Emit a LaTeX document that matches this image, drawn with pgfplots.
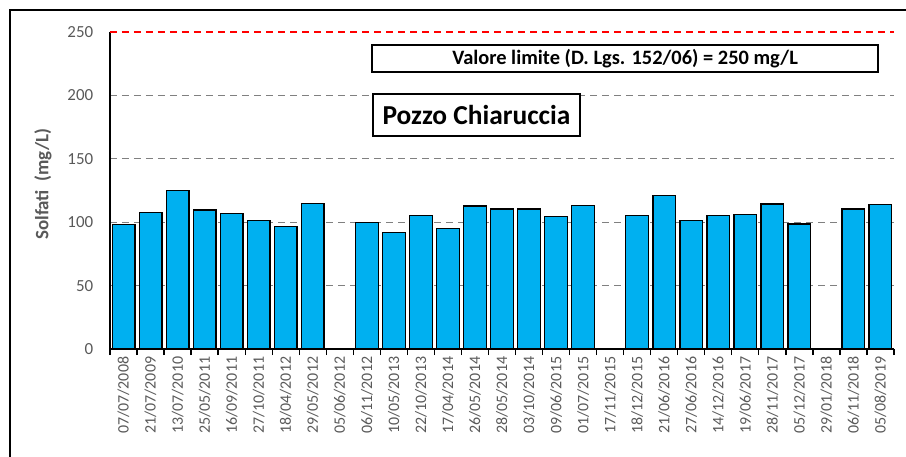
\documentclass[border=0pt]{standalone}
\usepackage{pgfplots}
\pgfplotsset{compat=1.18}
\usepackage{fontspec}
\setmainfont{Carlito}
\definecolor{barblue}{HTML}{00B0F0}
\definecolor{txtgrey}{HTML}{595959}
\definecolor{gridgrey}{HTML}{808080}
\begin{document}
\begin{tikzpicture}
\path[use as bounding box] (-110bp,-108bp) rectangle (796bp,349bp);
\draw[line width=1.5bp] (-100bp,-130bp) -- (-100bp,339bp) -- (820bp,339bp);
\begin{axis}[
  at={(0,0)}, anchor=south west,
  scale only axis, width=784bp, height=317bp,
  xmin=-0.5, xmax=28.5, ymin=0, ymax=250,
  clip=false,
  /pgf/number format/assume math mode=true,
  axis lines*=left,
  axis line style={line width=1.3bp, black},
  ytick={0,50,...,250},
  ymajorgrids,
  grid style={gridgrey, line width=1.3bp, dash pattern=on 7bp off 5bp},
  tick align=outside,
  ytick style={draw=none},
  xtick={0,...,28},
  major x tick style={draw=none},
  minor xtick={-0.5,0.5,...,28.5},
  minor tick length=6bp,
  minor x tick style={black, line width=1.3bp},
  xticklabels={07/07/2008,21/07/2009,13/07/2010,25/05/2011,16/09/2011,27/10/2011,18/04/2012,29/05/2012,05/06/2012,06/11/2012,10/05/2013,22/10/2013,17/04/2014,26/05/2014,28/05/2014,03/10/2014,09/06/2015,01/07/2015,17/11/2015,18/12/2015,21/06/2016,27/06/2016,14/12/2016,19/06/2017,28/11/2017,05/12/2017,29/01/2018,06/11/2018,05/08/2019},
  xticklabel style={rotate=90, anchor=east, font=\fontsize{16}{16}\selectfont, text=txtgrey},
  yticklabel style={font=\fontsize{17}{17}\selectfont, text=txtgrey, xshift=-9bp},
  ylabel={Solfati\ \ (mg/L)},
  every axis y label/.style={at={(axis description cs:-0.0855,0.52)}, rotate=90, anchor=center, font=\bfseries\fontsize{19}{19}\selectfont, text=txtgrey},
]
\addplot[ybar, bar width=0.84, fill=barblue, draw=black, line width=1.3bp] coordinates {
 (0,98.3) (1,107.5) (2,124.8) (3,109.6) (4,106.7) (5,101.2) (6,96.7) (7,114.9)
 (9,99.9) (10,91.7) (11,105.1) (12,95.2) (13,112.8) (14,110.4) (15,110.4) (16,104.4) (17,113.0)
 (19,105.1) (20,121.2) (21,101.5) (22,105.1) (23,106.2) (24,114.4) (25,98.6)
 (27,110.4) (28,113.8)
};
\addplot[red, line width=2bp, dash pattern=on 7bp off 5bp, forget plot] coordinates {(-0.5,250) (28.5,250)};
\node[draw, fill=white, line width=1.2bp, minimum width=506bp, minimum height=27bp, inner sep=0pt, font=\bfseries\fontsize{20.5}{21}\selectfont] at (rel axis cs:0.657,0.9164) {Valore limite (D. Lgs. 152/06) = 250 mg/L};
\node[draw, fill=white, line width=1.2bp, minimum width=207bp, minimum height=42bp, inner sep=0pt, font=\bfseries\fontsize{27.5}{28}\selectfont] at (rel axis cs:0.4675,0.738) {Pozzo Chiaruccia};
\end{axis}
\end{tikzpicture}
\end{document}
